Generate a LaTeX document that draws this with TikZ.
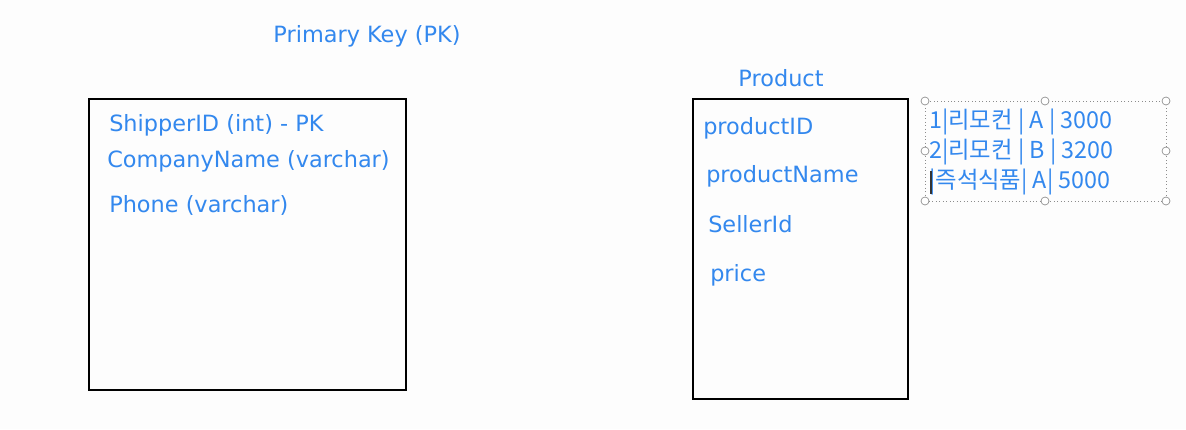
\documentclass[tikz,border=0pt]{standalone}
\usepackage{fontspec}
\setmainfont{DejaVu Sans}
\newfontfamily\cjk{Noto Sans CJK KR}
\definecolor{txtblue}{RGB}{51,136,238}
\definecolor{bg}{RGB}{253,253,253}
\definecolor{handle}{RGB}{140,140,140}
\begin{document}
\begin{tikzpicture}[x=0.75pt,y=-0.75pt,
  lbl/.style={anchor=west,inner sep=0pt,text=txtblue,font=\fontsize{16.8}{19}\selectfont},
  ttl/.style={inner sep=0pt,text=txtblue,font=\fontsize{16.8}{19}\selectfont},
  kor/.style={anchor=west,inner sep=0pt,text=txtblue,font=\cjk\fontsize{17.5}{20}\selectfont},
  tbl/.style={draw=black,line width=1.5pt},
  hnd/.style={circle,draw=handle,fill=white,inner sep=0pt,minimum size=6pt,line width=0.5pt}]
\fill[bg] (0,0) rectangle (1186,429);
\useasboundingbox (0,0) rectangle (1186,429);
\node[ttl] (pk) at (367,36) {Primary Key (PK)};
\draw[tbl] (89,99) rectangle (406,390);
\node[lbl] (s1) at (109,125) {ShipperID (int) - PK};
\node[lbl] (s2) at (107,161) {CompanyName (varchar)};
\node[lbl] (s3) at (109,205) {Phone (varchar)};
\node[ttl] (prod) at (781,78) {Product};
\draw[tbl] (693,99) rectangle (908,399);
\node[lbl] (p1) at (703,128) {productID};
\node[lbl] (p2) at (706,176) {productName};
\node[lbl] (p3) at (708,224) {SellerId};
\node[lbl] (p4) at (710,275) {price};
\draw[handle,dotted,line width=0.6pt] (925,101) rectangle (1166,201);
\foreach \x/\y in {925/101,1045/101,1166/101,925/151,1166/151,925/201,1045/201,1166/201}
  \node[hnd] at (\x,\y) {};
\node[kor] (k1) at (929,122) {1|리모컨 | A | 3000};
\node[kor] (k2) at (929,152) {2|리모컨 | B | 3200};
\node[kor] (k3) at (929,182) {|즉석식품| A| 5000};
\draw[black!80,line width=0.8pt] (931,171) -- (931,194);
\end{tikzpicture}
\end{document}
